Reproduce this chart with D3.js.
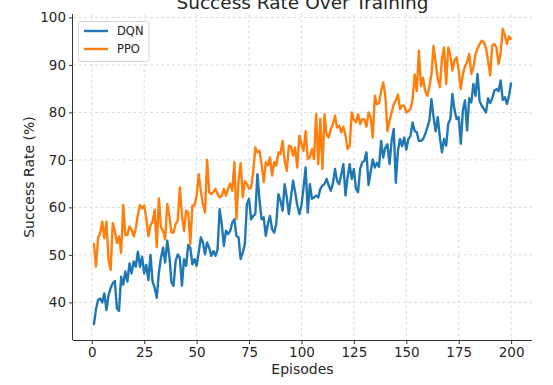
<!DOCTYPE html>
<html><head><meta charset="utf-8">
<script src="https://cdn.jsdelivr.net/npm/d3@7"></script>
<style>
body{margin:0;background:#fff}
text{font-family:"DejaVu Sans",sans-serif;fill:#262626}
</style>
</head><body>
<svg id="chart" width="553" height="385"></svg>
<script>
const chartTitle = "Success Rate Over Training";
const xLabel = "Episodes";
const yLabel = "Success Rate (%)";
const seriesNames = ["DQN", "PPO"];
const seriesColors = ["#1f77b4", "#ff7f0e"];

const dqn = [
35.2,38.5,40.5,40.8,40.0,41.9,38.4,41.5,43.0,44.0,
44.5,38.7,38.2,45.4,43.7,46.5,44.4,48.2,46.1,48.6,
47.5,50.7,47.5,49.6,46.1,47.9,44.7,50.0,44.4,43.0,
41.0,46.3,49.4,51.5,48.4,53.0,49.8,44.2,43.5,48.7,
50.1,49.4,43.5,49.1,47.7,52.1,51.5,48.0,49.1,47.7,
50.5,53.7,52.6,50.1,52.6,51.5,49.8,50.8,49.8,51.2,
59.6,56.5,51.9,55.1,54.4,55.0,56.8,57.5,54.0,53.7,
49.1,50.5,52.3,60.7,61.8,57.5,58.2,58.6,67.0,61.4,
57.5,57.9,54.0,56.5,58.2,55.4,54.7,56.5,62.8,61.4,
59.3,64.9,62.1,58.6,62.1,65.6,63.2,60.5,58.6,60.4,
64.2,68.4,58.9,64.9,61.8,62.1,62.5,62.1,63.9,64.6,
64.9,66.0,64.6,63.5,65.0,68.1,65.6,64.9,67.0,69.1,
62.5,66.3,69.1,66.0,68.1,63.9,63.2,68.1,69.5,69.8,
71.6,64.7,67.5,70.1,68.4,69.4,68.5,74.0,70.5,72.6,
73.3,69.1,74.0,76.5,65.2,71.9,74.4,72.9,74.7,72.2,
74.4,75.0,77.9,76.1,75.8,74.0,74.0,74.4,75.4,76.8,
78.2,82.8,79.0,76.0,79.0,74.8,71.6,74.4,73.0,77.6,
78.6,83.9,80.5,78.6,79.0,73.4,80.5,82.5,76.2,83.0,
82.1,86.0,83.5,88.1,82.3,81.4,80.7,80.0,83.0,82.0,
83.0,84.6,84.9,84.5,86.7,82.6,83.2,81.8,83.5,86.3
];

const ppo = [
52.5,47.5,53.5,54.6,57.0,53.5,57.0,49.0,46.8,56.7,
55.0,52.5,53.9,50.4,60.5,54.2,54.2,56.0,55.3,53.9,
55.6,58.5,60.5,59.8,60.4,57.7,53.9,56.2,57.0,59.5,
51.6,61.9,55.8,55.0,53.3,60.7,58.2,54.7,54.7,56.5,
57.2,64.2,58.2,55.0,59.3,58.9,52.3,60.4,60.4,62.5,
67.0,63.5,60.7,58.9,70.0,63.2,62.8,63.2,63.9,62.8,
62.1,62.5,63.9,62.5,63.9,65.0,63.5,69.5,57.5,65.6,
69.3,62.1,65.5,64.9,63.9,64.2,67.4,72.6,71.6,71.9,
69.0,65.3,69.5,68.8,70.5,66.7,69.5,68.8,71.6,71.2,
74.0,69.8,67.7,73.0,72.8,70.9,72.6,68.4,75.1,73.3,
71.9,76.1,70.2,70.5,72.3,70.2,79.6,69.1,78.6,68.1,
79.6,75.4,74.7,76.5,77.5,79.3,76.8,77.2,75.8,77.0,
75.1,72.3,73.0,80.0,78.5,77.9,79.6,77.5,78.6,78.5,
77.0,80.0,79.0,74.7,83.5,81.7,82.0,84.5,86.3,83.5,
76.1,78.2,80.0,81.7,82.5,83.8,80.7,81.4,81.4,80.0,
80.3,80.7,82.8,88.0,84.5,93.0,85.5,87.3,84.5,83.5,
85.4,88.0,94.0,90.5,87.0,85.3,91.3,93.7,86.0,93.7,
92.0,88.8,91.0,91.6,88.8,84.9,88.1,89.7,90.6,92.3,
88.1,89.5,92.3,93.4,94.4,95.1,94.8,93.5,90.9,87.8,
94.1,94.4,93.7,90.2,92.5,97.6,96.2,94.4,96.0,95.3
];

const episodes = dqn.map((_, i) => i + 1);
const xTickValues = [0, 25, 50, 75, 100, 125, 150, 175, 200];
const yTickValues = [40, 50, 60, 70, 80, 90, 100];

const W = 553, H = 385;
const m = {left: 73, right: 21, top: 14, bottom: 45};
const svg = d3.select("#chart");

// matplotlib-like 5% margins
const xExt = d3.extent(episodes);
const xPad = (xExt[1] - xExt[0]) * 0.05;
const allVals = dqn.concat(ppo);
const yExt = d3.extent(allVals);
const yPad = (yExt[1] - yExt[0]) * 0.05;

const x = d3.scaleLinear().domain([xExt[0] - xPad, xExt[1] + xPad]).range([m.left, W - m.right]);
const y = d3.scaleLinear().domain([yExt[0] - yPad, yExt[1] + yPad]).range([H - m.bottom, m.top]);

// grid
const grid = svg.append("g");
grid.selectAll("line.gx").data(xTickValues).join("line")
  .attr("x1", d => x(d)).attr("x2", d => x(d))
  .attr("y1", m.top).attr("y2", H - m.bottom)
  .attr("stroke", "#d2d2d2").attr("stroke-width", 0.8).attr("stroke-dasharray", "3,2.5");
grid.selectAll("line.gy").data(yTickValues).join("line")
  .attr("x1", m.left).attr("x2", W - m.right)
  .attr("y1", d => y(d)).attr("y2", d => y(d))
  .attr("stroke", "#d2d2d2").attr("stroke-width", 0.8).attr("stroke-dasharray", "3,2.5");

// lines
const line = d3.line().x((d, i) => x(episodes[i])).y(d => y(d));
[dqn, ppo].forEach((s, k) => {
  svg.append("path").datum(s).attr("d", line)
    .attr("fill", "none").attr("stroke", seriesColors[k])
    .attr("stroke-width", 2.4).attr("stroke-linejoin", "round").attr("stroke-linecap", "butt");
});

// axes
const xAxis = svg.append("g").attr("transform", `translate(0,${H - m.bottom})`)
  .call(d3.axisBottom(x).tickValues(xTickValues).tickSize(4).tickPadding(3).tickSizeOuter(0));
const yAxis = svg.append("g").attr("transform", `translate(${m.left},0)`)
  .call(d3.axisLeft(y).tickValues(yTickValues).tickSize(4).tickPadding(3).tickSizeOuter(0));
[xAxis, yAxis].forEach(a => {
  a.select(".domain").attr("stroke", "#333").attr("stroke-width", 1);
  a.selectAll(".tick line").attr("stroke", "#333").attr("stroke-width", 1);
  a.selectAll(".tick text").attr("font-size", "13.5px").attr("fill", "#262626")
    .style("font-family", '"DejaVu Sans",sans-serif');
});
// extend spines to full plot area
xAxis.select(".domain").attr("d", `M${m.left},0.5H${W - m.right}`);
yAxis.select(".domain").attr("d", `M-0.5,${m.top}V${H - m.bottom}`);

// labels
svg.append("text").attr("x", (m.left + W - m.right) / 2).attr("y", 374)
  .attr("text-anchor", "middle").attr("font-size", "14px").text(xLabel);
svg.append("text").attr("transform", `translate(34,${(m.top + H - m.bottom) / 2}) rotate(-90)`)
  .attr("text-anchor", "middle").attr("font-size", "14px").text(yLabel);
svg.append("text").attr("x", (m.left + W - m.right) / 2).attr("y", 8.5)
  .attr("text-anchor", "middle").attr("font-size", "18.5px").text(chartTitle);

// legend
const lg = svg.append("g");
lg.append("rect").attr("x", 78.5).attr("y", 21.5).attr("width", 70.5).attr("height", 40)
  .attr("rx", 2.5).attr("fill", "#fff").attr("fill-opacity", 0.85)
  .attr("stroke", "#d6d6d6").attr("stroke-width", 1);
seriesNames.forEach((n, i) => {
  const yy = 31 + i * 18;
  lg.append("line").attr("x1", 84).attr("x2", 108).attr("y1", yy).attr("y2", yy)
    .attr("stroke", seriesColors[i]).attr("stroke-width", 2.4);
  lg.append("text").attr("x", 117).attr("y", yy).attr("dy", "0.36em")
    .attr("font-size", "11.5px").text(n);
});
</script>
</body></html>
